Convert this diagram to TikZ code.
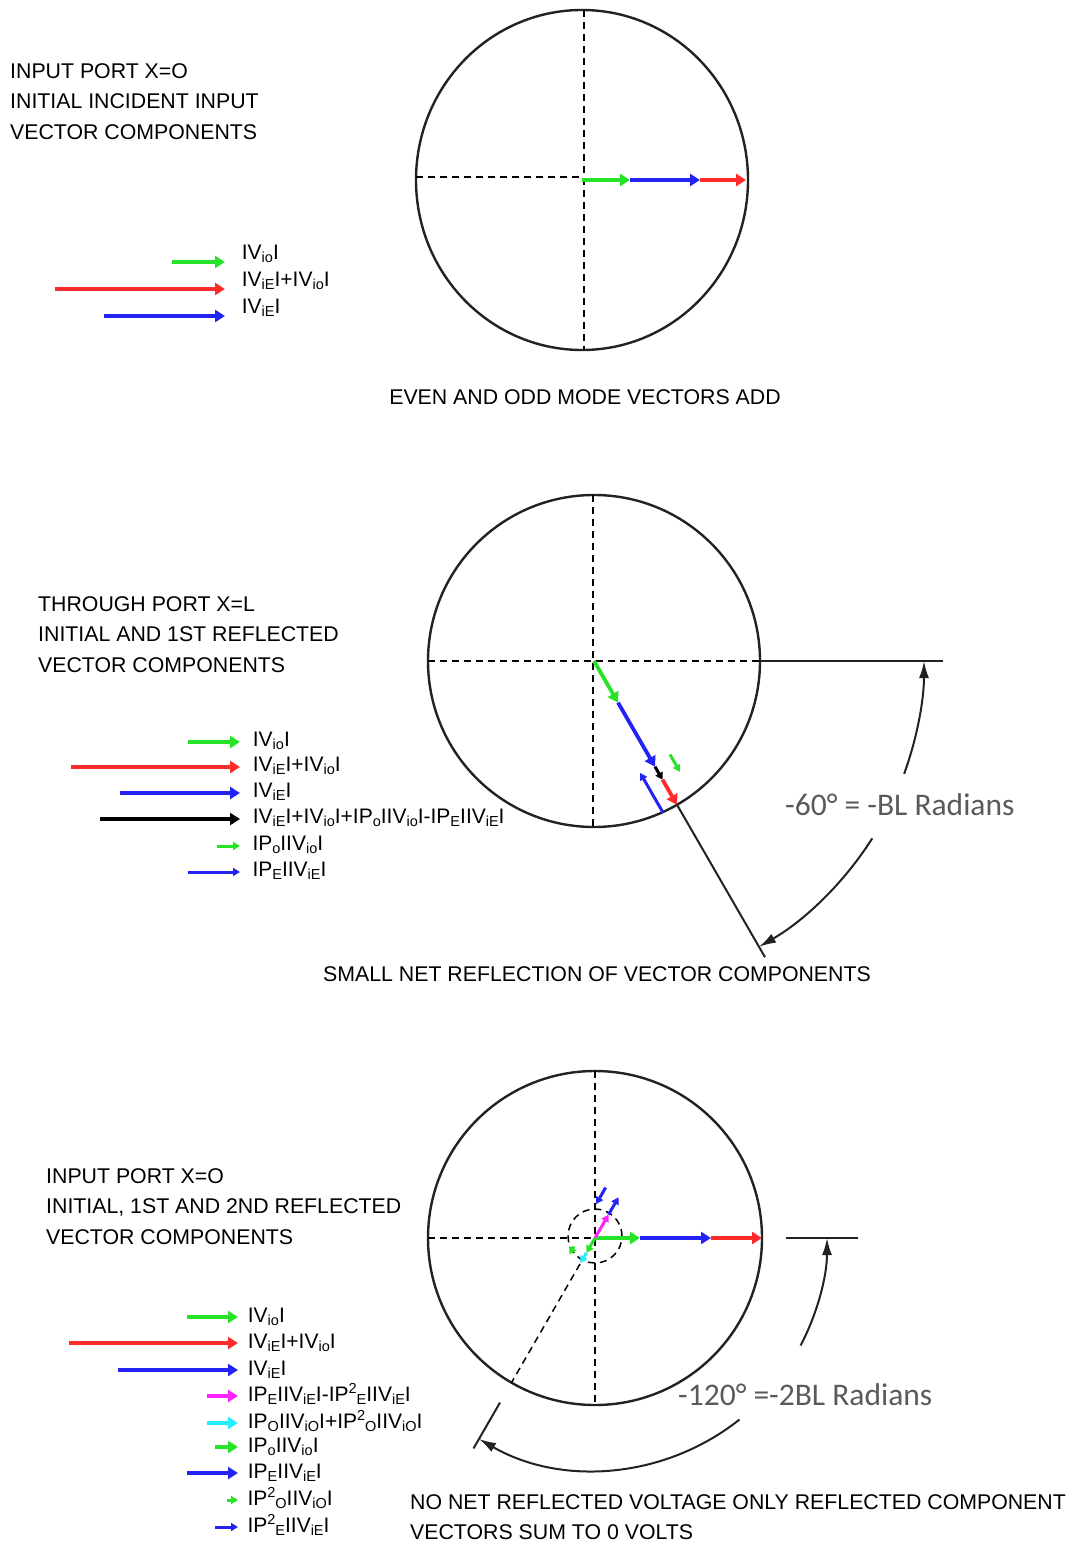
\documentclass[tikz,border=0pt]{standalone}
\usepackage{fontspec}
\setmainfont{Liberation Sans}
\newfontfamily\dimfont{Carlito}
\usepackage{tikz}
\usetikzlibrary{arrows.meta, calc}
\definecolor{vgreen}{HTML}{27E327}
\definecolor{vred}{HTML}{FF2A2A}
\definecolor{vblue}{HTML}{2323F5}
\definecolor{vmagenta}{HTML}{FF22FF}
\definecolor{vcyan}{HTML}{22EEFF}
\definecolor{ink}{HTML}{222222}
\definecolor{dimgray}{HTML}{5A5A5A}
\newcommand{\sbs}[1]{\raisebox{-3.5pt}{\fontsize{14.5}{14.5}\selectfont #1}}
\newcommand{\sps}[1]{\raisebox{8pt}{\fontsize{14.5}{14.5}\selectfont #1}}
\tikzstyle{vec} = [line width=3.8pt, -{Triangle[length=10pt,width=12pt]}]
\tikzstyle{svec} = [line width=3pt, -{Triangle[length=7pt,width=8pt]}]
\tikzstyle{ring} = [draw=ink, line width=2.4pt]
\tikzstyle{axis} = [draw=black, line width=1.5pt, dash pattern=on 7pt off 5pt]
\tikzstyle{dimline} = [draw=ink, line width=2pt]
\tikzstyle{dimarrow} = [draw=ink, line width=2pt, -{Latex[length=17pt,width=10pt]}]
\tikzstyle{title} = [anchor=north west, align=left, inner sep=0pt, font=\fontsize{21.3}{30.5}\selectfont]
\tikzstyle{caption} = [anchor=base, inner sep=0pt, font=\fontsize{21.3}{30}\selectfont]
\tikzstyle{legA} = [anchor=base west, inner sep=0pt, text=black, xshift=15pt, yshift=3pt, font=\fontsize{21}{25}\selectfont]
\tikzstyle{legB} = [anchor=base west, inner sep=0pt, text=black, xshift=11pt, yshift=-4pt, font=\fontsize{21}{25}\selectfont]
\tikzstyle{legC} = [anchor=base west, inner sep=0pt, text=black, xshift=8pt, yshift=-5pt, font=\fontsize{21}{25}\selectfont]
\tikzstyle{angle} = [anchor=base west, inner sep=0pt, text=dimgray, font=\dimfont\fontsize{31.5}{34}\selectfont]

\begin{document}
\begin{tikzpicture}[x=1pt, y=-1pt]
\useasboundingbox (0,0) rectangle (1072,1541);

% input port, incident vectors
\node (ttl1) [title] at (10,63) {INPUT PORT X=O\\INITIAL INCIDENT INPUT\\VECTOR COMPONENTS};
\coordinate (c1) at (582,180);
\draw[ring] (c1) ellipse [x radius=166pt, y radius=170pt];
\draw[axis] ($(c1)+(-166pt,3pt)$) -- ($(c1)+(0,3pt)$);
\draw[axis] ($(c1)+(2pt,170pt)$) -- ($(c1)+(2pt,-170pt)$);
\coordinate (g1) at ($(c1)+(48pt,0)$);
\coordinate (b1) at ($(c1)+(118pt,0)$);
\coordinate (r1) at ($(c1)+(164pt,0)$);
\draw[vec, vred] (b1) -- (r1);
\draw[vec, vblue] (g1) -- (b1);
\draw[vec, vgreen] (c1) -- (g1);

\draw[vec, vgreen] (172,262) -- (225,262) node (k1a) [legA] {IV\sbs{io}I};
\draw[vec, vred] (55,289) -- (225,289) node (k1b) [legA] {IV\sbs{iE}I+IV\sbs{io}I};
\draw[vec, vblue] (104,316) -- (225,316) node (k1c) [legA] {IV\sbs{iE}I};
\node (cap1) [caption] at (585,404) {EVEN AND ODD MODE VECTORS ADD};

% through port, first reflection
\node (ttl2) [title] at (38,596) {THROUGH PORT X=L\\INITIAL AND 1ST REFLECTED\\VECTOR COMPONENTS};
\coordinate (c2) at (594,661);
\draw[ring] (c2) circle [radius=166pt];
\draw[axis] ($(c2)+(-166pt,0)$) -- ($(c2)+(166pt,0)$);
\draw[axis] ($(c2)+(-1pt,166pt)$) -- ($(c2)+(-1pt,-166pt)$);
\coordinate (g2) at ($(c2)+(-60:48pt)$);
\coordinate (b2) at ($(c2)+(-60:122pt)$);
\coordinate (k2) at ($(c2)+(-60:137pt)$);
\coordinate (r2) at ($(c2)+(-60:166pt)$);
\draw[dimline] (r2) -- ($(c2)+(-60:342pt)$);
\draw[dimline] ($(c2)+(0:166pt)$) -- ($(c2)+(0:349pt)$);
\draw[vec, vred] (k2) -- (r2);
\draw[svec, black] (b2) -- (k2);
\draw[vec, vblue] (g2) -- (b2);
\draw[vec, vgreen] (c2) -- (g2);
\coordinate (pg2s) at ($(c2)+(-60:119pt)+(30:19pt)$);
\coordinate (pg2e) at ($(c2)+(-60:139pt)+(30:19pt)$);
\coordinate (pb2s) at ($(c2)+(-60:166pt)+(210:16pt)$);
\coordinate (pb2e) at ($(c2)+(-60:120pt)+(210:16pt)$);
\draw[svec, vgreen] (pg2s) -- (pg2e);
\draw[svec, vblue] (pb2s) -- (pb2e);
\draw[dimline, {Latex[length=17pt,width=10pt]}-] ($(c2)+(0:330pt)$) arc[start angle=0, end angle=-20, radius=330pt];
\draw[dimarrow] ($(c2)+(-32.5:330pt)$) arc[start angle=-32.5, end angle=-60, radius=330pt];
\node (ang2) [angle] at (785,815) {-60° = -BL Radians};

\draw[vec, vgreen] (188,742) -- (240,742) node (k2a) [legB] {IV\sbs{io}I};
\draw[vec, vred] (71,767) -- (240,767) node (k2b) [legB] {IV\sbs{iE}I+IV\sbs{io}I};
\draw[vec, vblue] (120,793) -- (240,793) node (k2c) [legB] {IV\sbs{iE}I};
\draw[vec, black] (100,819) -- (240,819) node (k2d) [legB] {IV\sbs{iE}I+IV\sbs{io}I+IP\sbs{o}IIV\sbs{io}I-IP\sbs{E}IIV\sbs{iE}I};
\draw[svec, vgreen] (217,846) -- (240,846) node (k2e) [legB] {IP\sbs{o}IIV\sbs{io}I};
\draw[svec, vblue] (188,872) -- (240,872) node (k2f) [legB] {IP\sbs{E}IIV\sbs{iE}I};
\node (cap2) [caption] at (597,981) {SMALL NET REFLECTION OF VECTOR COMPONENTS};

% input port, second reflection
\node (ttl3) [title] at (46,1168) {INPUT PORT X=O\\INITIAL, 1ST AND 2ND REFLECTED\\VECTOR COMPONENTS};
\coordinate (c3) at (595,1238);
\draw[ring] (c3) circle [radius=167pt];
\draw[axis] ($(c3)+(-167pt,0)$) -- (c3);
\draw[axis] ($(c3)+(0,167pt)$) -- ($(c3)+(0,-167pt)$);
\draw[axis] ($(c3)+(0,2pt)$) circle [radius=27pt];
\draw[axis] ($(c3)+(-120:30pt)$) -- ($(c3)+(-120:167pt)$);
\draw[dimline] ($(c3)+(0:191pt)$) -- ($(c3)+(0:263pt)$);
\draw[dimline] ($(c3)+(-120:190pt)$) -- ($(c3)+(-120:243pt)$);
\coordinate (g3) at ($(c3)+(45pt,0)$);
\coordinate (b3) at ($(c3)+(116pt,0)$);
\coordinate (r3) at ($(c3)+(167pt,0)$);
\draw[vec, vred] (b3) -- (r3);
\draw[vec, vblue] (g3) -- (b3);
\draw[vec, vgreen] (c3) -- (g3);
\coordinate (m3) at ($(c3)+(60:27pt)$);
\coordinate (n3) at ($(c3)+(60:47pt)$);
\draw[svec, vblue] (m3) -- (n3);
\draw[svec, vmagenta] (c3) -- (m3);
\coordinate (q3s) at ($(c3)+(60:49pt)+(150:16pt)$);
\coordinate (q3e) at ($(c3)+(60:30pt)+(150:16pt)$);
\draw[svec, vblue] (q3s) -- (q3e);
\coordinate (o3) at ($(c3)+(-120:17pt)$);
\coordinate (s3) at ($(c3)+(-120:29pt)$);
\draw[svec, vcyan] (o3) -- (s3);
\draw[svec, vgreen] (c3) -- (o3);
\coordinate (h3s) at ($(c3)+(-120:18pt)+(150:14pt)$);
\coordinate (h3e) at ($(c3)+(-120:27pt)+(150:14pt)$);
\draw[svec, vgreen] (h3s) -- (h3e);
\draw[dimline, {Latex[length=17pt,width=10pt]}-] ($(c3)+(0:232pt)$) arc[start angle=0, end angle=-27.6, radius=232pt];
\draw[dimarrow] ($(c3)+(-51.5:232pt)$) arc[start angle=-51.5, end angle=-120, radius=232pt];
\node (ang3) [angle] at (678,1405) {-120° =-2BL Radians};

\draw[vec, vgreen] (187,1317) -- (238,1317) node (k3a) [legC] {IV\sbs{io}I};
\draw[vec, vred] (69,1343) -- (238,1343) node (k3b) [legC] {IV\sbs{iE}I+IV\sbs{io}I};
\draw[vec, vblue] (118,1370) -- (238,1370) node (k3c) [legC] {IV\sbs{iE}I};
\draw[vec, vmagenta] (207,1396) -- (238,1396) node (k3d) [legC] {IP\sbs{E}IIV\sbs{iE}I-IP\sps{2}\sbs{E}IIV\sbs{iE}I};
\draw[vec, vcyan] (207,1423) -- (238,1423) node (k3e) [legC] {IP\sbs{O}IIV\sbs{iO}I+IP\sps{2}\sbs{O}IIV\sbs{iO}I};
\draw[vec, vgreen] (215,1447) -- (238,1447) node (k3f) [legC] {IP\sbs{o}IIV\sbs{io}I};
\draw[vec, vblue] (187,1473) -- (238,1473) node (k3g) [legC] {IP\sbs{E}IIV\sbs{iE}I};
\draw[svec, vgreen] (227,1500) -- (238,1500) node (k3h) [legC] {IP\sps{2}\sbs{O}IIV\sbs{iO}I};
\draw[svec, vblue] (215,1527) -- (238,1527) node (k3i) [legC] {IP\sps{2}\sbs{E}IIV\sbs{iE}I};
\node (cap3) [title] at (410,1494) {NO NET REFLECTED VOLTAGE ONLY REFLECTED COMPONENT\\VECTORS SUM TO 0 VOLTS};
\end{tikzpicture}
\end{document}
